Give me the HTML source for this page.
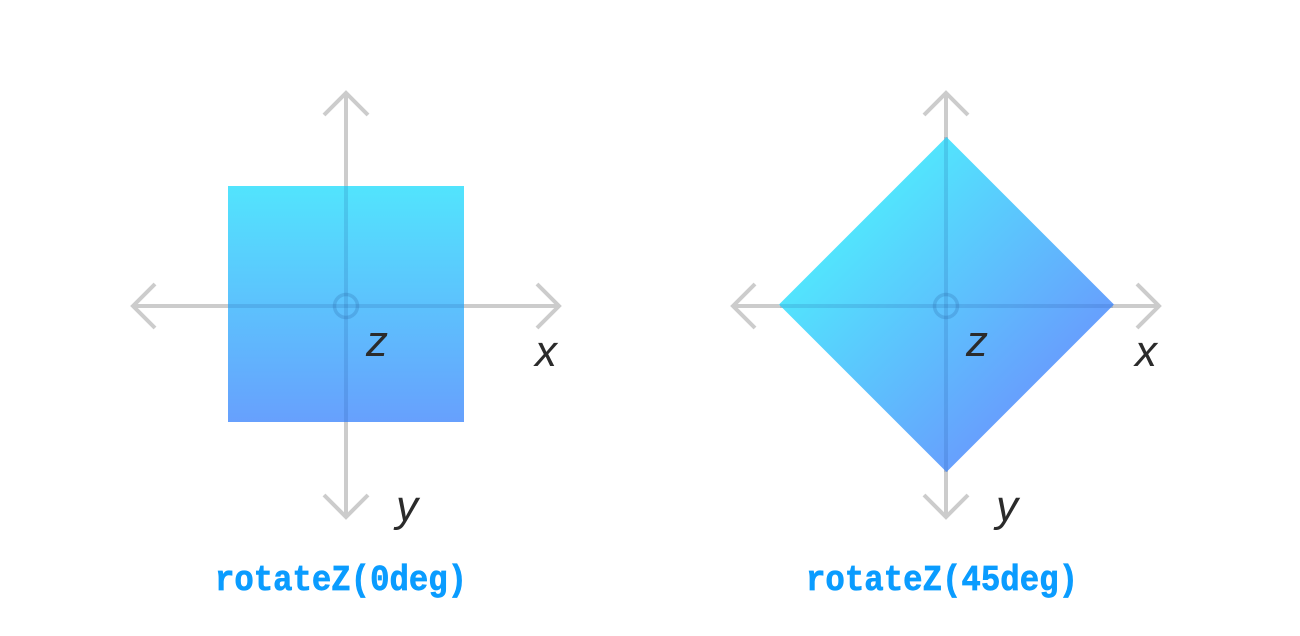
<!DOCTYPE html>
<html>
<head>
<meta charset="utf-8">
<style>
  html,body{margin:0;padding:0;background:#fff;}
  body{width:1300px;height:636px;overflow:hidden;}
  svg{display:block;}
  .lbl{font-family:"Liberation Sans",sans-serif;font-style:italic;font-size:44px;fill:#2b2b2b;}
  .cap{font-family:"Liberation Mono",monospace;font-weight:bold;font-size:36px;fill:#0a9cff;stroke:#0a9cff;stroke-width:0.7px;}
</style>
</head>
<body>
<svg width="1300" height="636" viewBox="0 0 1300 636" xmlns="http://www.w3.org/2000/svg">
  <defs>
    <linearGradient id="gv" x1="0" y1="0" x2="0" y2="1">
      <stop offset="0" stop-color="#52e4fd"/>
      <stop offset="1" stop-color="#67a0fd"/>
    </linearGradient>
    <linearGradient id="gd" gradientUnits="userSpaceOnUse" x1="862.5" y1="220.5" x2="1030.5" y2="388.5">
      <stop offset="0" stop-color="#52e4fd"/>
      <stop offset="1" stop-color="#67a0fd"/>
    </linearGradient>
  </defs>

  <!-- LEFT PANEL -->
  <g fill="none" stroke="#cccccc" stroke-width="4">
    <line x1="346" y1="93" x2="346" y2="517"/>
    <line x1="133" y1="306" x2="559" y2="306"/>
    <polyline points="324,115 346,93 368,115"/>
    <polyline points="324,495 346,517 368,495"/>
    <polyline points="155,284 133,306 155,328"/>
    <polyline points="537,284 559,306 537,328"/>
  </g>
  <rect x="228" y="186" width="236" height="236" fill="url(#gv)"/>
  <g fill="none" stroke="rgba(20,70,140,0.15)" stroke-width="4">
    <line x1="346" y1="186" x2="346" y2="422"/>
    <line x1="228" y1="306" x2="464" y2="306"/>
    <circle cx="346" cy="306" r="11.5" stroke-width="3.5" stroke="rgba(20,70,140,0.18)"/>
  </g>
  <text class="lbl" x="366" y="356">z</text>
  <text class="lbl" x="535" y="366">x</text>
  <text class="lbl" x="396" y="521">y</text>
  <text class="cap" x="215" y="590" textLength="252" lengthAdjust="spacingAndGlyphs">rotateZ(0deg)</text>

  <!-- RIGHT PANEL -->
  <g fill="none" stroke="#cccccc" stroke-width="4">
    <line x1="946" y1="93" x2="946" y2="517"/>
    <line x1="733" y1="306" x2="1159" y2="306"/>
    <polyline points="924,115 946,93 968,115"/>
    <polyline points="924,495 946,517 968,495"/>
    <polyline points="755,284 733,306 755,328"/>
    <polyline points="1137,284 1159,306 1137,328"/>
  </g>
  <polygon points="946.5,137 1114,304.5 946.5,472 779,304.5" fill="url(#gd)"/>
  <g fill="none" stroke="rgba(20,70,140,0.15)" stroke-width="4">
    <line x1="946" y1="137" x2="946" y2="472"/>
    <line x1="780" y1="306" x2="1113" y2="306"/>
    <circle cx="946" cy="306" r="11.5" stroke-width="3.5" stroke="rgba(20,70,140,0.18)"/>
  </g>
  <text class="lbl" x="966" y="356">z</text>
  <text class="lbl" x="1135" y="366">x</text>
  <text class="lbl" x="996" y="521">y</text>
  <text class="cap" x="806" y="590" textLength="272" lengthAdjust="spacingAndGlyphs">rotateZ(45deg)</text>
</svg>
</body>
</html>
